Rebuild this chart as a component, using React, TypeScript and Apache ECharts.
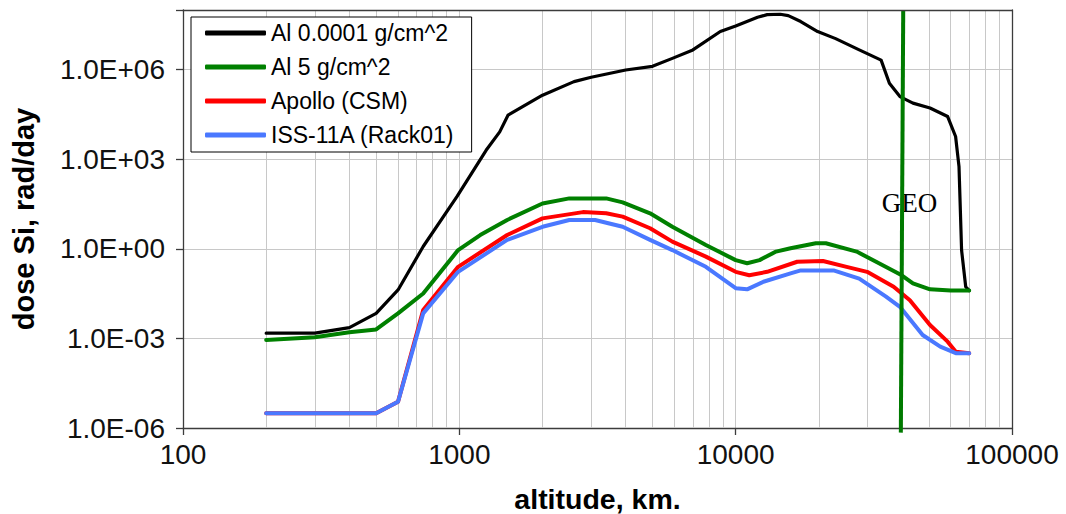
import { useEffect, useRef } from "react";
import * as echarts from "echarts";

// Altitude (km) and daily dose in Si (rad/day) for each shielding case
const al0001Alt = [200, 300, 400, 500, 600, 740, 980, 1250, 1400, 1500, 2000, 2600, 3000, 4000, 5000, 5900, 7000, 8800, 10000, 12000, 13000, 14500, 15500, 17200, 19800, 23000, 28000, 33600, 36000, 39300, 43800, 50500, 58500, 62500, 64300, 65700, 68000, 70000];
const al0001Dose = [1.5e-3, 1.5e-3, 2.3e-3, 6.9e-3, 0.042, 1.2, 56, 2000, 8300, 3.0e4, 1.4e5, 4.0e5, 5.6e5, 9.8e5, 1.3e6, 2.4e6, 4.6e6, 1.9e7, 2.9e7, 5.7e7, 7.0e7, 7.2e7, 6.5e7, 4.1e7, 1.9e7, 1.1e7, 4.6e6, 2.1e6, 3.5e5, 1.26e5, 7.6e4, 5.2e4, 2.7e4, 5.8e3, 570, 0.9, 0.054, 0.04];

const al5Alt = [200, 300, 400, 500, 600, 740, 990, 1190, 1490, 2000, 2500, 3400, 3900, 4900, 5900, 7800, 10000, 11000, 12200, 14000, 15800, 19500, 21200, 27400, 33000, 39900, 43800, 50500, 60000, 70000];
const al5Dose = [8.9e-4, 1.1e-3, 1.6e-3, 2.0e-3, 6.9e-3, 0.032, 0.91, 2.9, 9.3, 33, 49, 49, 36, 15.5, 5.5, 1.35, 0.42, 0.33, 0.42, 0.81, 1.05, 1.54, 1.54, 0.81, 0.33, 0.13, 0.07, 0.044, 0.04, 0.04];

const apolloAlt = [200, 300, 400, 500, 600, 740, 990, 1490, 2000, 2800, 3400, 3900, 4900, 5900, 7800, 10000, 11200, 13000, 16700, 20700, 25200, 29900, 37300, 42700, 50500, 58500, 62600, 70000];
const apolloDose = [3.1e-6, 3.1e-6, 3.1e-6, 3.1e-6, 7.6e-6, 9e-3, 0.25, 2.9, 10.5, 17, 15.5, 12, 4.9, 1.75, 0.55, 0.17, 0.13, 0.17, 0.37, 0.39, 0.25, 0.17, 0.054, 0.019, 2.8e-3, 7.8e-4, 3.6e-4, 3.2e-4];

const issAlt = [200, 300, 400, 500, 600, 740, 990, 1490, 2000, 2500, 3100, 3900, 4900, 5900, 7800, 10000, 11000, 12600, 15800, 17200, 22600, 28000, 35000, 39300, 47500, 55000, 62600, 70000];
const issDose = [3.1e-6, 3.1e-6, 3.1e-6, 3.1e-6, 7.6e-6, 6.9e-3, 0.17, 2.0, 5.5, 9.3, 9.3, 5.5, 2.0, 0.91, 0.25, 0.048, 0.044, 0.079, 0.15, 0.19, 0.19, 0.1, 0.025, 0.0115, 1.3e-3, 5.3e-4, 3.2e-4, 3.2e-4];

// Geostationary orbit marker line
const geoAlt = [40400, 39600];
const geoDose = [1e8, 7e-7];

// Minor vertical grid lines of the log altitude axis
const minorAlt = [200, 300, 400, 500, 600, 700, 800, 900, 2000, 3000, 4000, 5000, 6000, 7000, 8000, 9000, 20000, 30000, 40000, 50000, 60000, 70000, 80000, 90000];

const seriesNames = ["Al 0.0001 g/cm^2", "Al 5 g/cm^2", "Apollo (CSM)", "ISS-11A (Rack01)"];
const seriesColors = ["#000000", "#008000", "#ff0000", "#4a78ff"];

const pairs = (xs: number[], ys: number[]) => xs.map((x, i) => [x, ys[i]]);

const frameColor = "#3c3c3c";
const gridColor = "#c8c8c8";
const sans = "'Liberation Sans', Arial, sans-serif";

function formatDose(v: number): string {
  const e = Math.round(Math.log10(v));
  if (e % 3 !== 0) return "";
  const a = Math.abs(e);
  return `1.0E${e < 0 ? "-" : "+"}${a < 10 ? "0" + a : a}`;
}

export default function App() {
  const ref = useRef<HTMLDivElement>(null);

  useEffect(() => {
    if (!ref.current) return;
    const chart = echarts.init(ref.current, undefined, { renderer: "svg" });

    const lineSeries = [al0001Dose, al5Dose, apolloDose, issDose].map((dose, i) => {
      const alt = [al0001Alt, al5Alt, apolloAlt, issAlt][i];
      return {
        name: seriesNames[i],
        type: "line",
        data: pairs(alt, dose),
        showSymbol: false,
        symbol: "none",
        color: seriesColors[i],
        lineStyle: { color: seriesColors[i], width: i === 0 ? 3.2 : 4, join: "round", cap: "round" },
        z: 2,
      };
    });

    chart.setOption({
      animation: false,
      grid: {
        left: 183,
        right: 54,
        top: 10,
        bottom: 86,
        containLabel: false,
        outerBoundsMode: "none",
      },
      legend: {
        data: seriesNames,
        orient: "vertical",
        left: 191,
        top: 17,
        padding: [3, 17, 4, 14],
        itemGap: 8,
        itemWidth: 61,
        itemHeight: 5,
        icon: "roundRect",
        backgroundColor: "#ffffff",
        borderColor: "#000000",
        borderWidth: 1,
        selectedMode: false,
        textStyle: { fontFamily: sans, fontSize: 23, color: "#000", lineHeight: 26 },
        z: 6,
      },
      xAxis: [
        {
          type: "log",
          logBase: 10,
          min: 100,
          max: 100000,
          position: "bottom",
          name: "altitude, km.",
          nameLocation: "middle",
          nameGap: 56,
          nameTextStyle: { fontFamily: sans, fontSize: 28.5, fontWeight: "bold", color: "#000" },
          axisLine: { show: true, lineStyle: { color: frameColor, width: 1.3 } },
          axisTick: { show: true, inside: false, length: 7, lineStyle: { color: frameColor, width: 1.3 } },
          axisLabel: {
            margin: 12,
            fontFamily: sans,
            fontSize: 28,
            color: "#111",
            formatter: (v: number) => String(Math.round(v)),
          },
          splitLine: { show: true, showMinLine: false, showMaxLine: false, lineStyle: { color: gridColor, width: 1 } },
        },
        {
          type: "log",
          logBase: 10,
          min: 100,
          max: 100000,
          position: "top",
          z: 10,
          axisLine: { show: true, lineStyle: { color: frameColor, width: 1.3 } },
          axisTick: { show: false },
          axisLabel: { show: false },
          splitLine: { show: false },
        },
      ],
      yAxis: [
        {
          type: "log",
          logBase: 1000,
          min: 1e-6,
          max: 1e8,
          position: "left",
          name: "dose Si, rad/day",
          nameLocation: "middle",
          nameGap: 145,
          nameTextStyle: { fontFamily: sans, fontSize: 29, fontWeight: "bold", color: "#000" },
          axisLine: { show: true, lineStyle: { color: frameColor, width: 1.3 } },
          axisTick: { show: true, inside: false, length: 7, lineStyle: { color: frameColor, width: 1.3 } },
          axisLabel: {
            margin: 18,
            fontFamily: sans,
            fontSize: 28,
            color: "#111",
            formatter: formatDose,
          },
          splitLine: { show: true, showMinLine: false, showMaxLine: false, lineStyle: { color: gridColor, width: 1 } },
        },
        {
          type: "log",
          logBase: 1000,
          min: 1e-6,
          max: 1e8,
          position: "right",
          z: 10,
          axisLine: { show: true, lineStyle: { color: frameColor, width: 1.3 } },
          axisTick: { show: false },
          axisLabel: { show: false },
          splitLine: { show: false },
        },
      ],
      graphic: [
        {
          type: "text",
          x: 909.5,
          y: 203,
          z: 3,
          style: {
            text: "GEO",
            fontFamily: "'Liberation Serif', 'Times New Roman', serif",
            fontSize: 27,
            fill: "#000",
            align: "center",
            verticalAlign: "middle",
          },
        },
      ],
      series: [
        {
          name: "minor-grid",
          type: "line",
          data: [],
          silent: true,
          z: 1,
          markLine: {
            silent: true,
            z: 1,
            symbol: ["none", "none"],
            label: { show: false },
            lineStyle: { color: gridColor, width: 1, type: "solid" },
            emphasis: { disabled: true },
            data: minorAlt.map((v) => ({ xAxis: v })),
          },
        },
        ...lineSeries,
        {
          name: "GEO",
          type: "line",
          data: pairs(geoAlt, geoDose),
          showSymbol: false,
          symbol: "none",
          clip: false,
          lineStyle: { color: "#007a00", width: 4 },
          z: 4,
        },
      ],
    });

    return () => chart.dispose();
  }, []);

  return (
    <div
      ref={ref}
      style={{ position: "absolute", left: 0, top: 0, width: 1066, height: 514, background: "#fff" }}
    />
  );
}
